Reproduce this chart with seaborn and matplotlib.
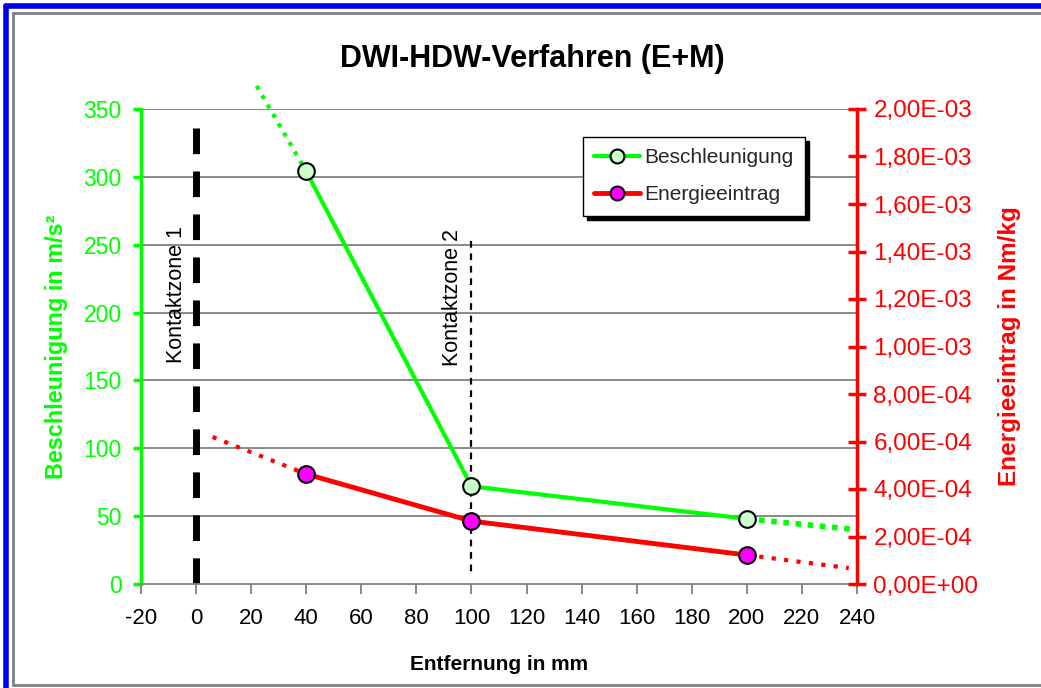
import matplotlib
matplotlib.use("Agg")
import logging
logging.getLogger("matplotlib.font_manager").setLevel(logging.ERROR)
import matplotlib.pyplot as plt
from matplotlib.lines import Line2D
from matplotlib.ticker import FuncFormatter
import seaborn as sns
import pandas as pd

# ---- data ----
distance_mm = [40, 100, 200]
beschleunigung = [304, 72, 48]
energieeintrag = [4.63e-4, 2.65e-4, 1.22e-4]

# dotted trend extensions
besch_ext_left_x = [22, 40]
besch_ext_left_y = [367, 304]
besch_ext_right_x = [200, 225, 240]
besch_ext_right_y = [48, 43, 40]
energ_ext_left_x = [6, 40]
energ_ext_left_y = [6.19e-4, 4.63e-4]
energ_ext_right_x = [200, 237]
energ_ext_right_y = [1.22e-4, 0.67e-4]

# contact zones
kz1_x, kz1_y = [0, 0], [336, 0]
kz2_x, kz2_y = [100, 100], [253, 9]

x_ticks = list(range(-20, 241, 20))
left_ticks = list(range(0, 351, 50))
right_ticks = [i * 2e-4 for i in range(11)]

title = "DWI-HDW-Verfahren (E+M)"
xlabel = "Entfernung in mm"
ylabel_left = "Beschleunigung in m/s²"
ylabel_right = "Energieeintrag in Nm/kg"

GREEN = "#00ff00"
RED = "#ff0000"
MAGENTA = "#ff00ff"
LIGHTGREEN = "#ccffcc"

sns.set_theme(style="white")
plt.rcParams["font.family"] = ["Liberation Sans", "DejaVu Sans"]
plt.rcParams["axes.unicode_minus"] = False

fig = plt.figure(figsize=(10.41, 6.88), dpi=100)
ax = fig.add_axes([141 / 1041, 1 - 584 / 688, (857 - 141) / 1041, (584 - 109) / 688])
ax2 = ax.twinx()

df_b = pd.DataFrame({"x": distance_mm, "y": beschleunigung})
df_e = pd.DataFrame({"x": distance_mm, "y": energieeintrag})

# grid lines
for t in left_ticks[1:]:
    ax.axhline(t, color="#808080", lw=1.3, zorder=0)

# contact zones
ax.plot(kz1_x, kz1_y, color="black", lw=5, dashes=(3.69, 2.5), zorder=2)
ax.plot(kz2_x, kz2_y, color="black", lw=1.6, dashes=(3, 2.6), zorder=2)
ax.text(-7.2, 213, "Kontaktzone 1", rotation=90, ha="center", va="center", fontsize=15.5, color="black")
ax.text(93, 211, "Kontaktzone 2", rotation=90, ha="center", va="center", fontsize=15.5, color="black")

# acceleration
ax.plot(besch_ext_left_x, besch_ext_left_y, color=GREEN, lw=3, ls=(0, (1, 1.6)), clip_on=False, zorder=3)
ax.plot(besch_ext_right_x, besch_ext_right_y, color=GREEN, lw=4, ls=(0, (1, 1.2)), clip_on=False, zorder=3)
sns.lineplot(data=df_b, x="x", y="y", ax=ax, color=GREEN, lw=3, marker="o", markersize=12,
             markerfacecolor=LIGHTGREEN, markeredgecolor="black", markeredgewidth=1.5, zorder=4,
             legend=False)

# energy
ax2.plot(energ_ext_left_x, energ_ext_left_y, color=RED, lw=3, ls=(0, (1, 2)), zorder=3)
ax2.plot(energ_ext_right_x, energ_ext_right_y, color=RED, lw=3, ls=(0, (1, 2)), zorder=3)
sns.lineplot(data=df_e, x="x", y="y", ax=ax2, color=RED, lw=3.5, marker="o", markersize=12,
             markerfacecolor=MAGENTA, markeredgecolor="black", markeredgewidth=1.5, zorder=4,
             legend=False)

# axes limits and ticks
ax.set_xlim(-20, 240)
ax.set_ylim(0, 350)
ax2.set_ylim(0, 2e-3)
ax.set_xticks(x_ticks)
ax.set_yticks(left_ticks)
ax2.set_yticks(right_ticks)
ax.grid(False)
ax2.grid(False)

def sci_comma(v, pos):
    return f"{v:.2E}".replace(".", ",")

ax2.yaxis.set_major_formatter(FuncFormatter(sci_comma))

ax.spines["top"].set_visible(False)
ax2.spines["top"].set_visible(False)
ax.spines["right"].set_visible(False)
ax2.spines["left"].set_visible(False)
ax2.spines["bottom"].set_visible(False)
ax.spines["left"].set_color(GREEN)
ax.spines["left"].set_linewidth(2.5)
ax.spines["bottom"].set_color("#808080")
ax.spines["bottom"].set_linewidth(1.3)
ax2.spines["right"].set_color(RED)
ax2.spines["right"].set_linewidth(2.5)

ax.tick_params(axis="y", colors=GREEN, labelcolor=GREEN, direction="out", length=6, width=2.5,
               labelsize=16.5, pad=8, left=True)
ax.tick_params(axis="x", colors="#808080", labelcolor="black", direction="out", length=7, width=1.3,
               labelsize=16, pad=10, bottom=True)
ax2.tick_params(axis="y", colors=RED, labelcolor=RED, direction="inout", length=13.5, width=2.5,
                labelsize=17.5, pad=5, right=True)

ax.set_xlabel(xlabel, fontsize=15, fontweight="bold", color="black", labelpad=19)
ax.set_ylabel(ylabel_left, fontsize=16.8, fontweight="bold", color=GREEN, labelpad=11)
ax2.set_ylabel(ylabel_right, fontsize=17.5, fontweight="bold", color=RED, labelpad=14)
fig.text(532 / 1041, 1 - 59 / 688, title, fontsize=22, fontweight="bold", color="black",
         ha="center", va="center")

# legend
handles = [
    Line2D([0], [0], color=GREEN, lw=3, marker="o", markersize=10, markerfacecolor=LIGHTGREEN,
           markeredgecolor="black", markeredgewidth=1.5),
    Line2D([0], [0], color=RED, lw=3.5, marker="o", markersize=10, markerfacecolor=MAGENTA,
           markeredgecolor="black", markeredgewidth=1.5),
]
leg = ax2.legend(handles, ["Beschleunigung", "Energieeintrag"], loc="upper left",
                 bbox_to_anchor=(583 / 1041, 1 - 137 / 688), bbox_transform=fig.transFigure,
                 fontsize=15, frameon=True, fancybox=False, edgecolor="black", framealpha=1,
                 shadow={"color": "black", "alpha": 1, "ox": 3, "oy": -3}, handlelength=2.2,
                 handletextpad=0.2, borderpad=0.55, labelspacing=0.85, borderaxespad=0)
leg.get_frame().set_linewidth(1.0)

# outer frame
fig.add_artist(Line2D([6 / 1041, 6 / 1041], [0, 1 - 6 / 688], color="#0000ee", lw=4, transform=fig.transFigure))
fig.add_artist(Line2D([6 / 1041, 1], [1 - 6 / 688, 1 - 6 / 688], color="#0000ee", lw=4, transform=fig.transFigure))
fig.add_artist(Line2D([13 / 1041, 13 / 1041], [1 - 685 / 688, 1 - 13 / 688], color="#808080", lw=2, transform=fig.transFigure))
fig.add_artist(Line2D([13 / 1041, 1], [1 - 13 / 688, 1 - 13 / 688], color="#808080", lw=2, transform=fig.transFigure))
fig.add_artist(Line2D([13 / 1041, 1], [1 - 685 / 688, 1 - 685 / 688], color="#808080", lw=2, transform=fig.transFigure))

fig.savefig("out.png", dpi=100)
